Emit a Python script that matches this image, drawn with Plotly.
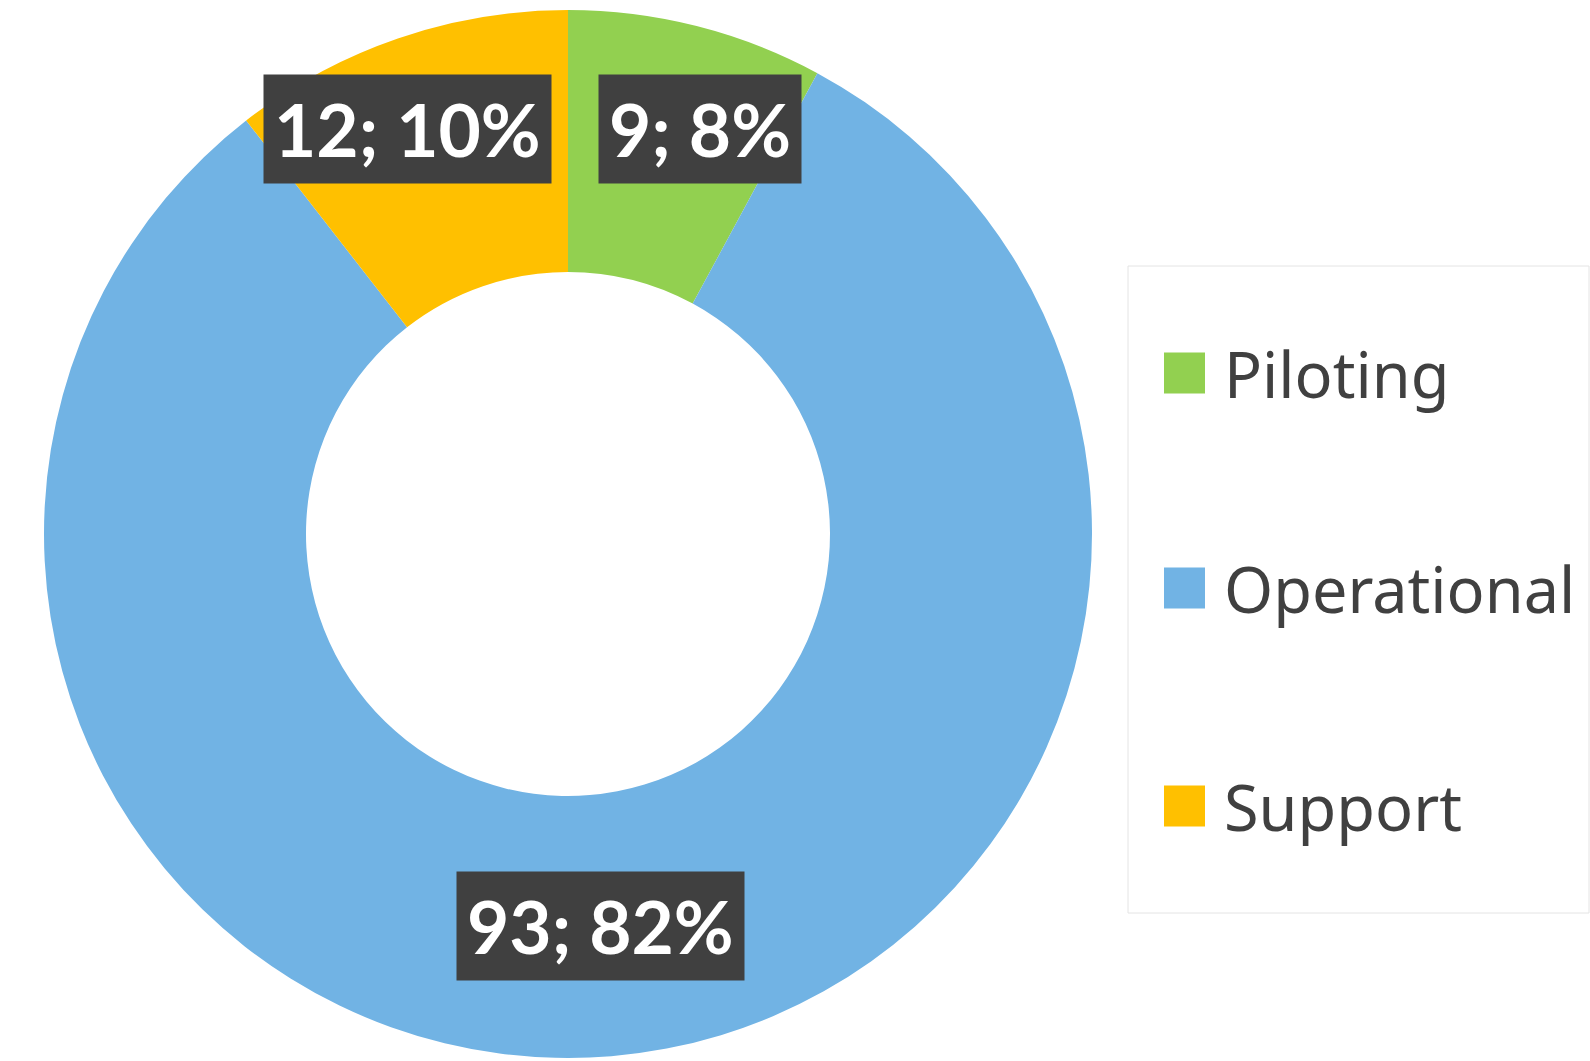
import math
import plotly.graph_objects as go

# ---- data ----
categories = ["Piloting", "Operational", "Support"]
values = [9, 93, 12]
pct_labels = ["8%", "82%", "10%"]
colors = ["#92D050", "#71B3E4", "#FFC000"]

W, H = 1590, 1061
cx, cy, R = 568, 534, 524
hole = 0.5

fig = go.Figure(go.Pie(
    labels=categories, values=values, sort=False, direction="clockwise",
    rotation=0, hole=hole, textinfo="none", hoverinfo="label+value+percent",
    marker=dict(colors=colors, line=dict(width=0)),
    domain=dict(x=[(cx - R) / W, (cx + R) / W], y=[1 - (cy + R) / H, 1 - (cy - R) / H]),
    showlegend=False,
))

# data labels at slice midpoints (with Excel-like overlap nudges)
nudge = {"Piloting": (36, 24), "Operational": (0, 0), "Support": (-33, 33)}
total = sum(values)
cum = 0
for cat, v, p in zip(categories, values, pct_labels):
    mid = (cum + v / 2) / total * 2 * math.pi
    cum += v
    r = R * (1 + hole) / 2
    px = cx + r * math.sin(mid)
    py = cy - r * math.cos(mid)
    dx, dy = nudge[cat]
    fig.add_annotation(
        x=px / W, y=1 - py / H, xref="paper", yref="paper",
        text=f"<b>{v}; {p}</b>", showarrow=False,
        font=dict(family="Lato", size=73, color="white"),
        bgcolor="#404040", borderpad=10, xshift=dx, yshift=dy,
        xanchor="center", yanchor="middle",
    )

# legend box
fig.add_shape(type="rect", xref="paper", yref="paper",
              x0=1128 / W, x1=1589 / W, y0=1 - 913 / H, y1=1 - 266 / H,
              line=dict(color="#E4E4E4", width=1), fillcolor="white", layer="below")
leg_y = [373, 588, 806]
sq = 41
for cat, col, yc in zip(categories, colors, leg_y):
    fig.add_shape(type="rect", xref="paper", yref="paper",
                  x0=1164 / W, x1=(1164 + sq) / W,
                  y0=1 - (yc + sq / 2) / H, y1=1 - (yc - sq / 2) / H,
                  fillcolor=col, line=dict(width=0))
    fig.add_annotation(x=1222 / W, y=1 - yc / H, xref="paper", yref="paper",
                       text=cat, showarrow=False, xanchor="left", yanchor="middle",
                       font=dict(family="Noto Sans", size=63, color="#404040"))

fig.update_layout(width=W, height=H, margin=dict(l=0, r=0, t=0, b=0),
                  paper_bgcolor="white", plot_bgcolor="white")
fig.write_html("out.html")
